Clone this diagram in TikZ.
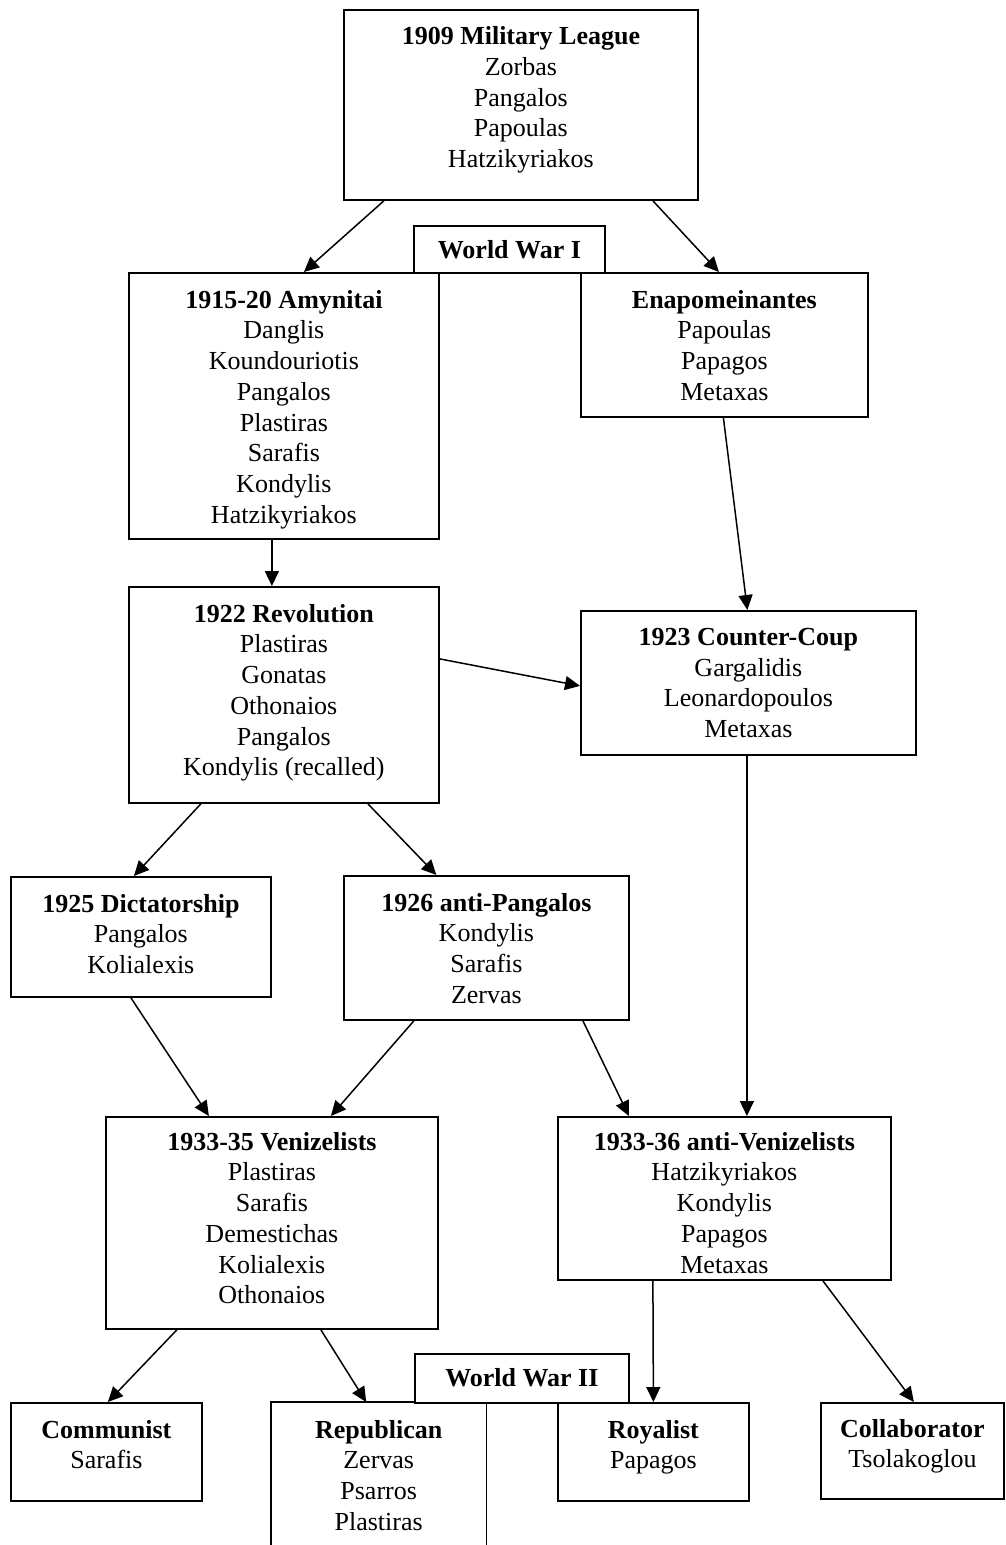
\documentclass[tikz,border=0pt]{standalone}
\usepackage{fontspec}
\setmainfont{Liberation Serif}
\usetikzlibrary{arrows.meta}
\tikzset{
  box/.style={draw, line width=1.8pt, inner sep=0pt, anchor=north west, fill=white},
  txt/.style={anchor=north, inner sep=0pt, align=center, font=\fontsize{26}{30.7}\selectfont},
  conn/.style={line width=1.5pt, -{Triangle[length=15pt,width=14pt]}},
}
\newcommand{\mybox}[5]{% name, x, y, w, h
  \node[box, minimum width=#4pt, minimum height=#5pt] (#1) at (#2,#3) {};}
\begin{document}
\begin{tikzpicture}[x=1pt,y=-1pt]
\useasboundingbox (0,0) rectangle (1005,1545);
% boxes
\mybox{ml}{343}{9}{354}{190}
\mybox{amy}{128}{272}{310}{266}
\mybox{ena}{580}{272}{287}{144}
\mybox{wwi}{413}{225}{191}{47}
\mybox{rev}{128}{586}{310}{216}
\mybox{cc}{580}{610}{335}{144}
\mybox{dict}{10}{876}{260}{120}
\mybox{antip}{343}{875}{285}{144}
\mybox{ven}{105}{1116}{332}{212}
\mybox{antiv}{557}{1116}{333}{163}
\mybox{comm}{10}{1402}{191}{98}
\node[inner sep=0pt, anchor=north west, minimum width=215pt, minimum height=143pt] (rep) at (271,1402) {};
\draw[line width=1.8pt] (rep.south west) -- (rep.north west) -- (rep.north east) -- (rep.south east);
\mybox{roy}{557}{1402}{191}{98}
\mybox{coll}{820}{1402}{183}{96}
\mybox{wwii}{414}{1353}{214}{49}
% texts
\node[txt] (mlt) at ([yshift=-17.5pt]ml.north) {\textbf{1909 Military League}\\Zorbas\\Pangalos\\Papoulas\\Hatzikyriakos};
\node[txt] (wwit) at ([yshift=-15pt]wwi.north) {\textbf{World War I}};
\node[txt] (amyt) at ([yshift=-18pt]amy.north) {\textbf{1915-20 Amynitai}\\Danglis\\Koundouriotis\\Pangalos\\Plastiras\\Sarafis\\Kondylis\\Hatzikyriakos};
\node[txt] (enat) at ([yshift=-18pt]ena.north) {\textbf{Enapomeinantes}\\Papoulas\\Papagos\\Metaxas};
\node[txt] (revt) at ([yshift=-18pt]rev.north) {\textbf{1922 Revolution}\\Plastiras\\Gonatas\\Othonaios\\Pangalos\\Kondylis (recalled)};
\node[txt] (cct) at ([yshift=-18pt]cc.north) {\textbf{1923 Counter-Coup}\\Gargalidis\\Leonardopoulos\\Metaxas};
\node[txt] (dictt) at ([yshift=-18pt]dict.north) {\textbf{1925 Dictatorship}\\Pangalos\\Kolialexis};
\node[txt] (antipt) at ([yshift=-18pt]antip.north) {\textbf{1926 anti-Pangalos}\\Kondylis\\Sarafis\\Zervas};
\node[txt] (vent) at ([yshift=-16pt]ven.north) {\textbf{1933-35 Venizelists}\\Plastiras\\Sarafis\\Demestichas\\Kolialexis\\Othonaios};
\node[txt] (antivt) at ([yshift=-16pt]antiv.north) {\textbf{1933-36 anti-Venizelists}\\Hatzikyriakos\\Kondylis\\Papagos\\Metaxas};
\node[txt] (wwiit) at ([yshift=-15pt]wwii.north) {\textbf{World War II}};
\node[txt] (commt) at ([yshift=-18pt]comm.north) {\textbf{Communist}\\Sarafis};
\node[txt] (rept) at ([yshift=-18pt]rep.north) {\textbf{Republican}\\Zervas\\Psarros\\Plastiras};
\node[txt] (royt) at ([yshift=-18pt]roy.north) {\textbf{Royalist}\\Papagos};
\node[txt] (collt) at ([yshift=-17pt]coll.north) {\textbf{Collaborator}\\Tsolakoglou};
% connectors
\draw[conn] ([xshift=-137pt]ml.south) -- ([xshift=20pt]amy.north);
\draw[conn] ([xshift=132pt]ml.south) -- ([xshift=-5.5pt]ena.north);
\draw[conn] ([xshift=-12pt]amy.south) -- ([xshift=-12pt]rev.north);
\draw[conn] ([xshift=-1pt]ena.south) -- ([xshift=-1pt]cc.north);
\draw[conn] ([yshift=36pt]rev.east) -- ([yshift=-3pt]cc.west);
\draw[conn] ([xshift=-83pt]rev.south) -- ([xshift=-7pt]dict.north);
\draw[conn] ([xshift=84pt]rev.south) -- ([xshift=-50pt]antip.north);
\draw[conn] ([xshift=-1.5pt]cc.south) -- ([xshift=22.5pt]antiv.north);
\draw[conn] ([xshift=-10pt]dict.south) -- ([xshift=-63pt]ven.north);
\draw[conn] ([xshift=-72.5pt]antip.south) -- ([xshift=59pt]ven.north);
\draw[conn] ([xshift=96.5pt]antip.south) -- ([xshift=-95.5pt]antiv.north);
\draw[conn] ([xshift=-95pt]ven.south) -- ([xshift=1.5pt]comm.north);
\draw[conn] ([xshift=49pt]ven.south) -- ([xshift=-12.5pt]rep.north);
\draw[conn] ([xshift=-71.5pt]antiv.south) -- (roy.north);
\draw[conn] ([xshift=98.5pt]antiv.south) -- ([xshift=1.5pt]coll.north);
\end{tikzpicture}
\end{document}
